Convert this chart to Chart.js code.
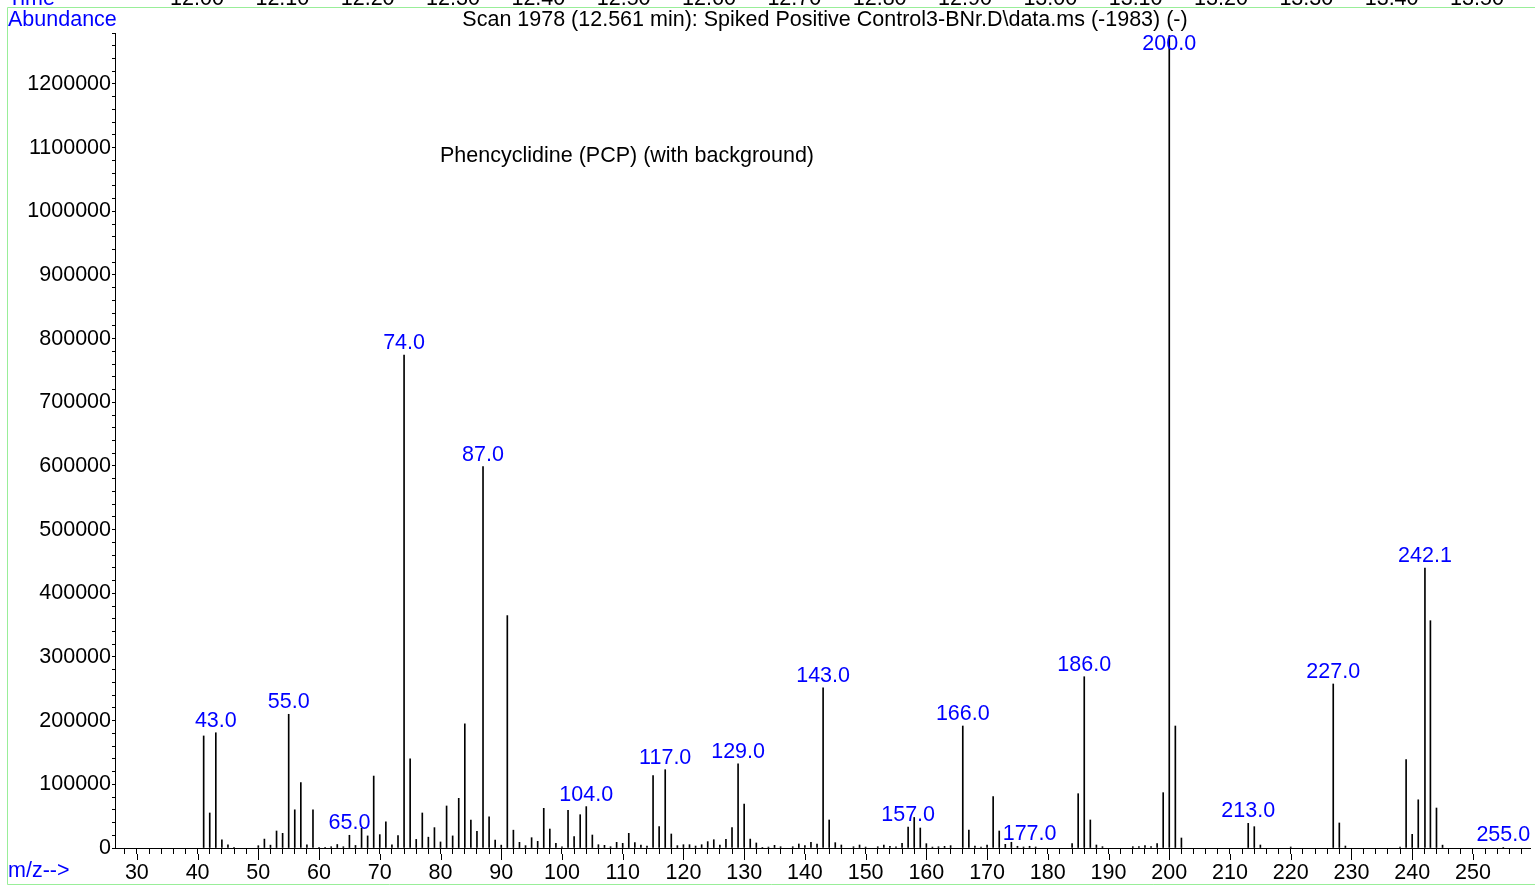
<!DOCTYPE html>
<html>
<head>
<meta charset="utf-8">
<title>Scan 1978 – mass spectrum</title>
<script src="https://cdn.jsdelivr.net/npm/chart.js@4.4.1/dist/chart.umd.min.js"></script>
<style>
  html, body { margin: 0; padding: 0; background: #ffffff; overflow: hidden; }
  canvas { display: block; }
</style>
</head>
<body>
<canvas id="spectrum" width="1535" height="888"></canvas>
<script>
// m/z of every ion recorded in the scan
const massToCharge = [
  41, 42, 43, 44, 45, 46, 50, 51, 52, 53, 54, 55, 56, 57, 58, 59, 60, 61, 62, 63, 64,
  65, 66, 67, 68, 69, 70, 71, 72, 73, 74, 75, 76, 77, 78, 79, 80, 81, 82, 83, 84, 85,
  86, 87, 88, 89, 90, 91, 92, 93, 94, 95, 96, 97, 98, 99, 100, 101, 102, 103, 104,
  105, 106, 107, 108, 109, 110, 111, 112, 113, 114, 115, 116, 117, 118, 119, 120,
  121, 122, 123, 124, 125, 126, 127, 128, 129, 130, 131, 132, 133, 134, 135, 136,
  138, 139, 140, 141, 142, 143, 144, 145, 146, 148, 149, 150, 152, 153, 154, 155,
  156, 157, 158, 159, 160, 161, 162, 163, 164, 166, 167, 168, 169, 170, 171, 172,
  173, 174, 175, 176, 177, 178, 184, 185, 186, 187, 188, 189, 194, 195, 196, 197,
  198, 199, 200, 201, 202, 213, 214, 215, 220, 227, 228, 229, 238, 239, 240, 241,
  242.1, 243, 244, 245, 255
];

// abundance (counts) for each m/z above
const abundance = [
  176000, 55000, 181000, 13000, 5000, 1000, 3600, 14000, 4500, 26700, 23000, 210000,
  60000, 102600, 5000, 60000, 1000, 1000, 2000, 5500, 2000,
  20000, 4000, 31000, 19000, 113000, 21000, 41000, 5000, 19500, 774000, 140000, 13500,
  55000, 17000, 32000, 9500, 66000, 19000, 78000, 195000, 44000,
  26000, 599000, 49000, 12500, 4500, 365000, 28000, 8900, 3700, 16200, 10500, 62300,
  29800, 7300, 2000, 59000, 17800, 52300, 65000,
  20400, 5200, 4200, 2000, 8900, 7300, 23000, 8400, 4700, 3100, 113600, 33500, 123000,
  22000, 3700, 5200,
  5200, 3100, 5200, 10000, 13000, 4700, 13600, 32000, 132000, 69000, 14000, 7900, 1000,
  1500, 4200, 2000,
  2000, 6300, 3700, 8900, 6300, 251500, 44000, 8400, 4700, 2000, 4700, 1500, 2000,
  4700, 2600, 2000,
  7300, 33000, 48000, 31400, 6800, 1500, 2000, 2600, 3700, 191600, 28000, 3100, 1500,
  4700, 80600, 26700,
  5800, 9000, 2700, 1600, 2700, 1600, 6800, 85300, 269000, 44000, 4700, 2100, 2100,
  2100, 3700, 2100,
  6800, 86900, 1276000, 191600, 15700, 38700, 33500, 4700, 1600, 257600, 39300, 3100,
  1600, 138700, 21500, 75700,
  439800, 357000, 62800, 4500, 1000
];

// ions annotated with their m/z
const labelledPeaks = [43, 55, 65, 74, 87, 104, 117, 129, 143, 157, 166, 177, 186, 200, 213, 227, 242.1, 255];

// labelled ticks
const mzTickLabels = [30, 40, 50, 60, 70, 80, 90, 100, 110, 120, 130, 140, 150, 160, 170, 180, 190, 200, 210, 220, 230, 240, 250];
const abundanceTickLabels = [0, 100000, 200000, 300000, 400000, 500000, 600000, 700000, 800000, 900000, 1000000, 1100000, 1200000];

// retention-time ruler of the chromatogram panel above
const timeLabels = ["12.00", "12.10", "12.20", "12.30", "12.40", "12.50", "12.60", "12.70",
                    "12.80", "12.90", "13.00", "13.10", "13.20", "13.30", "13.40", "13.50"];

const titleText = "Scan 1978 (12.561 min): Spiked Positive Control3-BNr.D\\data.ms (-1983) (-)";
const compoundText = "Phencyclidine (PCP) (with background)";

const FONT = "'Liberation Sans', Arial, Helvetica, sans-serif";
const FONT_SIZE = 21.5;
const BLUE = "#0000ff";
const FRAME_GREEN = "#99ee99";

const MZ_MIN = 26.4, MZ_MAX = 259.4;
const AB_MAX = 1280000;

// panel frame, text and the extra-long major m/z ticks
const decorations = {
  id: "decorations",
  beforeDraw(chart) {
    const ctx = chart.ctx;
    ctx.save();
    ctx.strokeStyle = FRAME_GREEN;
    ctx.lineWidth = 1;
    ctx.beginPath();
    ctx.moveTo(chart.width, 7.5);
    ctx.lineTo(7.5, 7.5);
    ctx.lineTo(7.5, 884.5);
    ctx.lineTo(chart.width, 884.5);
    ctx.stroke();
    ctx.restore();
  },
  afterDraw(chart) {
    const ctx = chart.ctx;
    const area = chart.chartArea;
    const x = chart.scales.x;
    ctx.save();
    ctx.font = FONT_SIZE + "px " + FONT;

    // time ruler (only its lower edge is inside the page)
    ctx.textBaseline = "alphabetic";
    ctx.textAlign = "left";
    ctx.fillStyle = BLUE;
    ctx.fillText("Time", 8, 4.5);
    ctx.fillStyle = "#000";
    ctx.textAlign = "center";
    timeLabels.forEach((t, i) => ctx.fillText(t, 197 + i * 85.33, 4.5));

    // headings
    ctx.textBaseline = "middle";
    ctx.textAlign = "left";
    ctx.fillStyle = BLUE;
    ctx.fillText("Abundance", 8, 20);
    ctx.fillText("m/z-->", 8, 871);
    ctx.fillStyle = "#000";
    ctx.textAlign = "center";
    ctx.fillText(titleText, 825, 20);
    ctx.textAlign = "left";
    ctx.fillText(compoundText, 440, 156);

    // major m/z ticks run twice as deep as the minor ones
    ctx.strokeStyle = "#000";
    ctx.lineWidth = 1;
    ctx.beginPath();
    mzTickLabels.forEach(v => {
      const px = Math.round(x.getPixelForValue(v)) + 0.5;
      ctx.moveTo(px, area.bottom + 6);
      ctx.lineTo(px, area.bottom + 12);
    });
    ctx.stroke();
    ctx.restore();
  },
  afterDatasetsDraw(chart) {
    const ctx = chart.ctx;
    const area = chart.chartArea;
    const x = chart.scales.x, y = chart.scales.y;
    ctx.save();
    ctx.font = FONT_SIZE + "px " + FONT;
    ctx.fillStyle = BLUE;
    ctx.textAlign = "center";
    ctx.textBaseline = "middle";
    labelledPeaks.forEach(mz => {
      const idx = massToCharge.indexOf(mz);
      if (idx < 0) return;
      const px = x.getPixelForValue(mz);
      const py = y.getPixelForValue(abundance[idx]);
      const ly = Math.max(py - 12, area.top + 11);
      ctx.fillText(mz.toFixed(1), px, ly);
    });
    ctx.restore();
  }
};

const minorStepX = 2, minorStepY = 20000;

new Chart(document.getElementById("spectrum"), {
  type: "bar",
  data: {
    datasets: [{
      data: massToCharge.map((m, i) => ({ x: m, y: abundance[i] })),
      backgroundColor: "#000000",
      borderWidth: 0,
      barThickness: 1,
      grouped: false
    }]
  },
  options: {
    responsive: false,
    devicePixelRatio: 1,
    animation: false,
    events: [],
    layout: { padding: { left: 0, top: 33, right: 5, bottom: 0 } },
    plugins: {
      legend: { display: false },
      tooltip: { enabled: false },
      title: { display: false }
    },
    scales: {
      x: {
        type: "linear",
        min: MZ_MIN,
        max: MZ_MAX,
        offset: false,
        afterBuildTicks(scale) {
          const ticks = [];
          for (let v = Math.ceil(MZ_MIN / minorStepX) * minorStepX; v <= MZ_MAX; v += minorStepX) ticks.push({ value: v });
          scale.ticks = ticks;
        },
        afterFit(scale) { scale.height = 40; },
        ticks: {
          autoSkip: false,
          maxRotation: 0,
          padding: 6,
          color: "#000",
          font: { family: FONT, size: FONT_SIZE },
          callback: v => (mzTickLabels.includes(v) ? String(v) : "")
        },
        grid: { drawOnChartArea: false, drawTicks: true, tickLength: 6, tickColor: "#000", offset: false },
        border: { display: true, color: "#000", width: 1 }
      },
      y: {
        type: "linear",
        min: 0,
        max: AB_MAX,
        afterBuildTicks(scale) {
          const ticks = [];
          for (let v = 0; v <= AB_MAX; v += minorStepY) ticks.push({ value: v });
          scale.ticks = ticks;
        },
        afterFit(scale) { scale.width = 115; },
        ticks: {
          autoSkip: false,
          padding: 1,
          color: "#000",
          font: { family: FONT, size: FONT_SIZE },
          callback: v => (abundanceTickLabels.includes(v) ? String(v) : "")
        },
        grid: { drawOnChartArea: false, drawTicks: true, tickLength: 3, tickColor: "#000" },
        border: { display: true, color: "#000", width: 1 }
      }
    }
  },
  plugins: [decorations]
});
</script>
</body>
</html>
